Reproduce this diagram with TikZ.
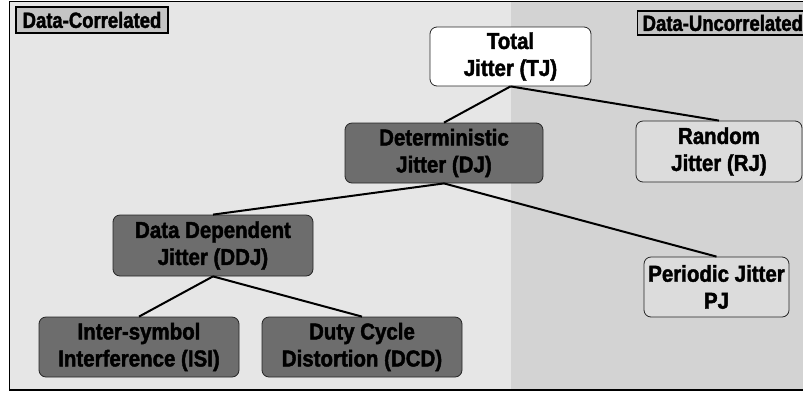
\documentclass[tikz,border=0pt]{standalone}
\usepackage{fontspec}
\setmainfont[FakeStretch=0.89,BoldFeatures={FakeBold=1.8}]{Liberation Sans}
\newfontfamily\tagfont[FakeStretch=0.84,BoldFeatures={FakeBold=1.8}]{Liberation Sans}
\usetikzlibrary{calc}
\usepackage{xcolor}

\definecolor{corrbg}{HTML}{E6E6E6}
\definecolor{uncorrbg}{HTML}{D3D3D3}
\definecolor{darkbox}{HTML}{6D6D6D}
\definecolor{lightbox}{HTML}{DCDCDC}
\definecolor{tagfill}{HTML}{C4C4C4}

\tikzset{
  jbox/.style={draw=black!85, line width=0.8pt, rounded corners=7pt,
    align=center, inner sep=0pt, font=\bfseries\fontsize{23}{27}\selectfont},
  jdark/.style={jbox, fill=darkbox},
  jlight/.style={jbox, fill=lightbox},
  jwhite/.style={jbox, fill=white},
  tag/.style={draw=black, line width=1.4pt, fill=tagfill, inner xsep=5pt,
    inner ysep=0pt, minimum height=26pt, font=\tagfont\bfseries\fontsize{22}{24}\selectfont},
  link/.style={line width=2pt, black}
}

\begin{document}
\begin{tikzpicture}[x=1pt,y=-1pt]

      \useasboundingbox (0,0) rectangle (803,392);

      % Background
      \fill[corrbg] (9.5,1.5) rectangle (511,390);
      \fill[uncorrbg] (511,1.5) rectangle (812,390);
      \draw[line width=1.2pt] (812,1.5) -- (9.5,1.5) -- (9.5,390) -- (812,390);

      % Region tags
      \node[tag, minimum width=152pt] (corr) at (92,20) {Data-Correlated};
      \node[tag, anchor=west, minimum height=24pt, minimum width=175pt] (uncorr) at (637,23) {Data-Uncorrelated\hspace*{8pt}};

      % Jitter boxes
      \node[jwhite, minimum width=161pt, minimum height=59pt] (tj) at (510.5,56.5) {Total\\Jitter (TJ)};
      \node[jdark, minimum width=198pt, minimum height=60pt] (dj) at (444,153) {Deterministic\\Jitter (DJ)};
      \node[jlight, minimum width=166pt, minimum height=61pt] (rj) at (719,151.5) {Random\\Jitter (RJ)};
      \node[jdark, minimum width=200pt, minimum height=61pt] (ddj) at (213,245.5) {Data Dependent\\Jitter (DDJ)};
      \node[jlight, minimum width=145pt, minimum height=60pt] (pj) at (716.5,287) {Periodic Jitter\\PJ};
      \node[jdark, minimum width=200pt, minimum height=60pt] (isi) at (139,347) {Inter-symbol\\Interference (ISI)};
      \node[jdark, minimum width=200pt, minimum height=60pt] (dcd) at (362,347) {Duty Cycle\\Distortion (DCD)};

      % Links
      \foreach \a/\b in {tj/dj, tj/rj, dj/ddj, dj/pj, ddj/isi, ddj/dcd}
      {
        \draw[link] (\a.south) -- (\b.north);
      }

  \end{tikzpicture}
\end{document}
